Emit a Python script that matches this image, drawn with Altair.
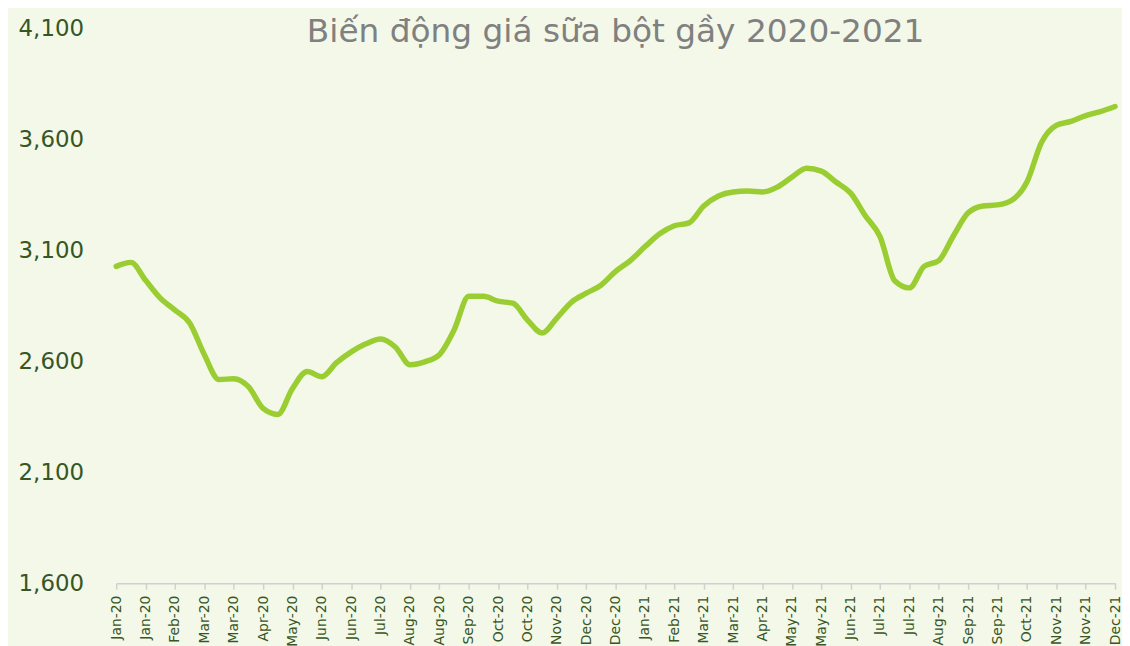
import json
import altair as alt
import pandas as pd

# Tick labels (one per tick, bi-weekly observations)
tick_labels = ["Jan-20", "Jan-20", "Feb-20", "Mar-20", "Mar-20", "Apr-20", "May-20",
               "Jun-20", "Jun-20", "Jul-20", "Aug-20", "Aug-20", "Sep-20", "Oct-20",
               "Oct-20", "Nov-20", "Dec-20", "Dec-20", "Jan-21", "Feb-21", "Mar-21",
               "Mar-21", "Apr-21", "May-21", "May-21", "Jun-21", "Jul-21", "Jul-21",
               "Aug-21", "Sep-21", "Sep-21", "Oct-21", "Nov-21", "Nov-21", "Dec-21"]

# Prices every half tick
prices = [3027, 3045, 2964, 2884, 2830, 2772, 2629, 2517, 2521, 2485,
          2387, 2360, 2477, 2553, 2530, 2593, 2642, 2678, 2700, 2664,
          2584, 2597, 2629, 2740, 2892, 2892, 2870, 2861, 2785, 2727,
          2794, 2866, 2906, 2942, 3004, 3053, 3116, 3174, 3210, 3223,
          3299, 3344, 3362, 3366, 3362, 3384, 3429, 3469, 3456, 3407,
          3357, 3255, 3161, 2962, 2930, 3027, 3053, 3165, 3268, 3299,
          3304, 3326, 3407, 3586, 3662, 3680, 3706, 3724, 3747]

y_ticks = [1600, 2100, 2600, 3100, 3600, 4100]

positions = [i * 0.5 for i in range(len(prices))]
df = pd.DataFrame({"pos": positions, "price": prices})

label_expr = json.dumps(tick_labels) + "[datum.value]"

BG = "#f3f8e9"
LABEL = "#375623"

chart = alt.Chart(df).mark_line(
    color="#9acd32", strokeWidth=5.5, interpolate="monotone", strokeCap="round"
).encode(
    x=alt.X("pos:Q",
            scale=alt.Scale(domain=[0, len(tick_labels) - 1], nice=False, zero=False),
            axis=alt.Axis(values=list(range(len(tick_labels))), labelExpr=label_expr,
                          labelAngle=-90, labelAlign="right", labelBaseline="middle",
                          labelFontSize=14, labelColor=LABEL, labelFont="DejaVu Sans",
                          labelPadding=6, tickSize=6, tickColor="#d0d0d0", tickWidth=1.5,
                          domainColor="#d0d0d0", domainWidth=1.5, grid=False,
                          title=None, labelOverlap=False, labelFlush=False)),
    y=alt.Y("price:Q",
            scale=alt.Scale(domain=[1600, 4100], nice=False, zero=False),
            axis=alt.Axis(values=y_ticks, format=",.0f", labelFontSize=23,
                          labelColor=LABEL, labelFont="DejaVu Sans", labelPadding=33,
                          ticks=False, domain=False, grid=False, title=None)),
).properties(
    width=1006,
    height=559,
    title=alt.TitleParams("Biến động giá sữa bột gầy 2020-2021", fontSize=33,
                          font="DejaVu Sans", fontWeight="normal", color="#808080",
                          anchor="middle", offset=-32),
    autosize=alt.AutoSizeParams(type="none"),
    padding={"left": 109, "top": 18, "right": 7, "bottom": 61},
    background=BG,
).configure_view(stroke=None, fill=BG)

chart.save("out.html", embed_options={"renderer": "svg", "actions": False})
